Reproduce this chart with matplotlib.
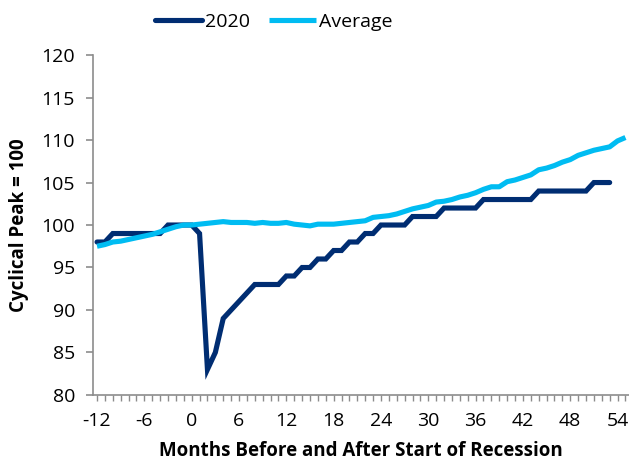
import numpy as np
import matplotlib
matplotlib.use("Agg")
import matplotlib.pyplot as plt
from matplotlib.ticker import MultipleLocator

plt.rcParams['font.family'] = ['Open Sans', 'DejaVu Sans']
plt.rcParams['axes.unicode_minus'] = False

# months relative to the start of the recession
months = list(range(-12, 56))

# 2020 recession, indexed to the cyclical peak
y2020 = [98, 98, 99, 99, 99, 99, 99, 99, 99, 100, 100, 100, 100,
         99, 83, 85, 89, 90, 91, 92, 93, 93, 93, 93,
         94, 94, 95, 95, 96, 96, 97, 97, 98, 98, 99, 99,
         100, 100, 100, 100, 101, 101, 101, 101,
         102, 102, 102, 102, 102,
         103, 103, 103, 103, 103, 103, 103,
         104, 104, 104, 104, 104, 104, 104,
         105, 105, 105]

# average of past recessions
average = [97.5, 97.7, 98.0, 98.1, 98.3, 98.5, 98.7, 98.9, 99.2, 99.5, 99.8, 100.0, 100.0,
           100.1, 100.2, 100.3, 100.4, 100.3, 100.3, 100.3, 100.2, 100.3, 100.2, 100.2,
           100.3, 100.1, 100.0, 99.9, 100.1, 100.1, 100.1, 100.2, 100.3, 100.4, 100.5, 100.9,
           101.0, 101.1, 101.3, 101.6, 101.9, 102.1, 102.3, 102.7, 102.8, 103.0, 103.3, 103.5,
           103.8, 104.2, 104.5, 104.5, 105.1, 105.3, 105.6, 105.9, 106.5, 106.7, 107.0, 107.4,
           107.7, 108.2, 108.5, 108.8, 109.0, 109.2, 109.9, 110.3]

dark = '#002D72'
light = '#00BCF2'
grey = '#8C8C8C'

fig = plt.figure(figsize=(6.29, 4.63), dpi=100)
ax = fig.add_axes([0.148, 0.147, 0.852, 0.734])

ax.plot(months[:len(y2020)], y2020, color=dark, lw=3.7, label='2020',
        solid_joinstyle='miter', solid_capstyle='round', clip_on=False)
ax.plot(months, average, color=light, lw=3.7, label='Average',
        solid_joinstyle='round', solid_capstyle='butt')

ax.set_xlim(-12.5, 55.45)
ax.set_ylim(80, 120)
ax.yaxis.set_major_locator(MultipleLocator(5))
ax.xaxis.set_major_locator(MultipleLocator(6))
ax.xaxis.set_minor_locator(MultipleLocator(1))

for s in ['top', 'right']:
    ax.spines[s].set_visible(False)
for s in ['left', 'bottom']:
    ax.spines[s].set_color(grey)
    ax.spines[s].set_linewidth(1.2)

ax.tick_params(axis='y', colors=grey, length=5, width=1.2, labelsize=14,
               labelcolor='black', pad=8)
ax.tick_params(axis='x', which='both', colors=grey, length=4, width=1,
               labelsize=14, labelcolor='black', pad=8)

ax.set_xlabel('Months Before and After Start of Recession', fontsize=13.5,
              fontweight='bold', labelpad=8)
ax.set_ylabel('Cyclical Peak = 100', fontsize=13.5, fontweight='bold', labelpad=9)

fig.legend(loc='center', bbox_to_anchor=(0.435, 0.952), ncol=2, frameon=False,
           fontsize=14, handlelength=2.4, handletextpad=0.15, columnspacing=1.0)

fig.savefig('out.png', dpi=100)
